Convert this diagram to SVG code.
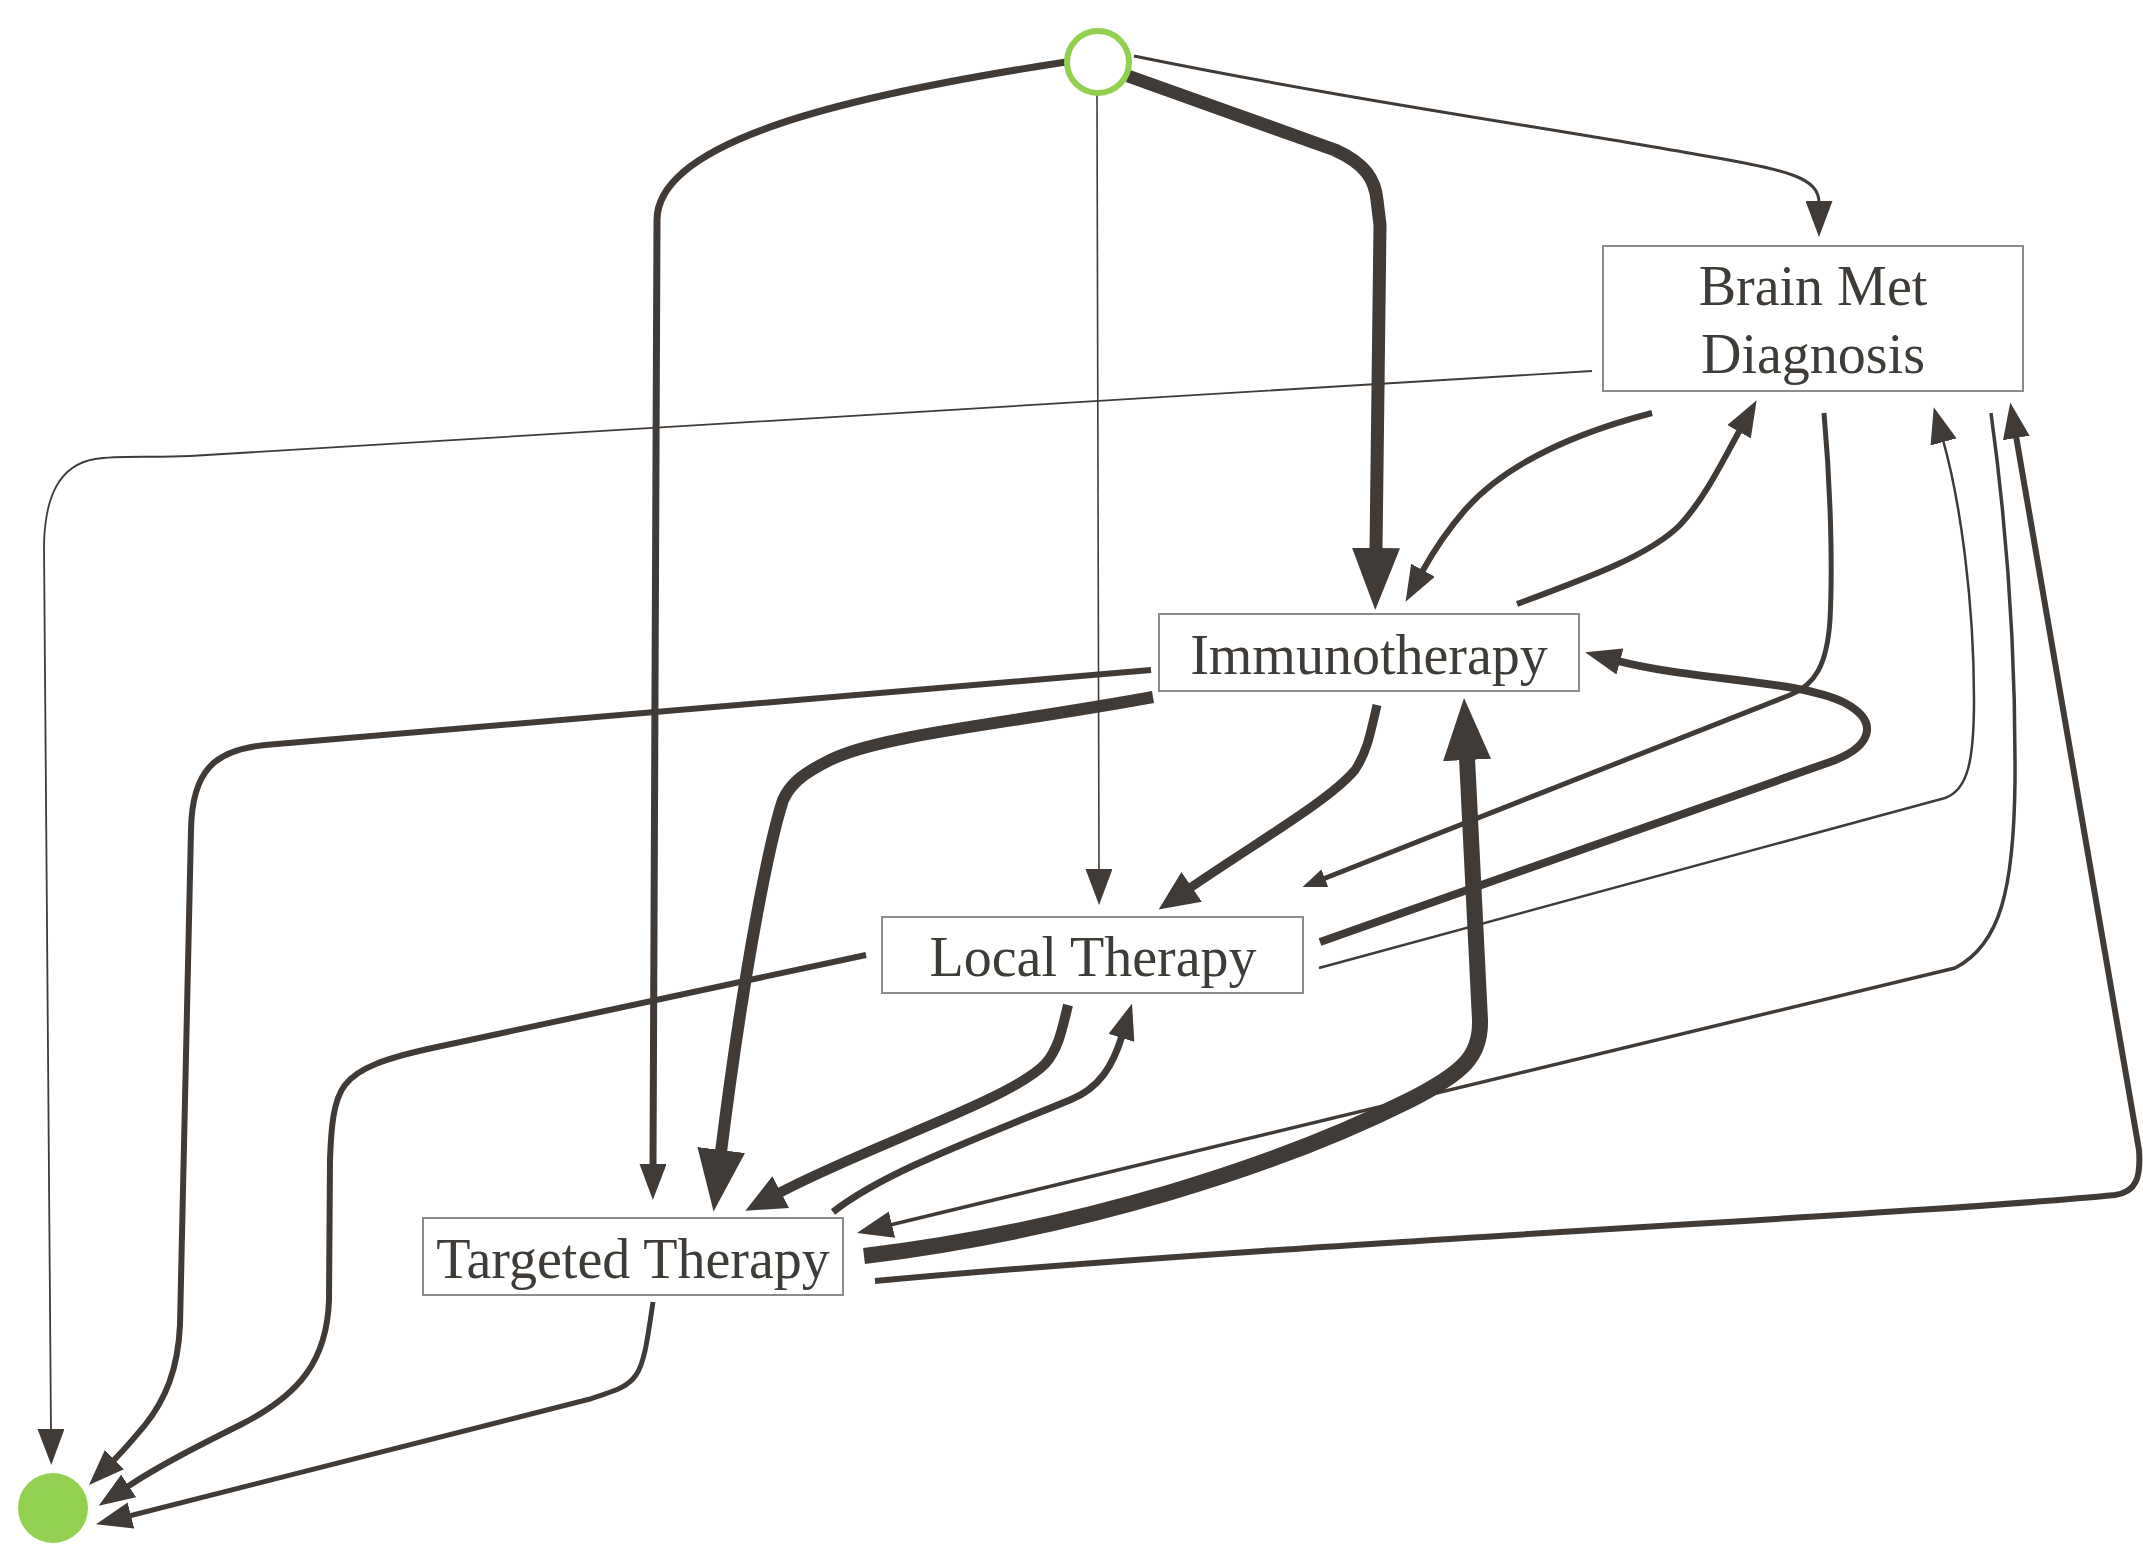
<svg xmlns="http://www.w3.org/2000/svg" width="2143" height="1545" viewBox="0 0 2143 1545">
  <style>
    .edge { fill: none; stroke: #403b37; stroke-linecap: butt; stroke-linejoin: round; }
    .box { fill: #ffffff; stroke: #8c8c8c; stroke-width: 2; }
    .label { font-family: "Liberation Serif", "Times New Roman", serif; font-size: 56px; fill: #3f3b37; text-anchor: middle; }
    .head { fill: #403b37; }
  </style>
  <defs>
    <marker id="ah" markerUnits="userSpaceOnUse" orient="auto" markerWidth="36" markerHeight="27" refX="2" refY="13.5">
      <path class="head" d="M0,0 L36,13.5 L0,27 Z"/>
    </marker>
    <marker id="ah-sm" markerUnits="userSpaceOnUse" orient="auto" markerWidth="24" markerHeight="19" refX="2" refY="9.5">
      <path class="head" d="M0,0 L24,9.5 L0,19 Z"/>
    </marker>
    <marker id="ah-md" markerUnits="userSpaceOnUse" orient="auto" markerWidth="40" markerHeight="36" refX="2" refY="18">
      <path class="head" d="M0,0 L40,18 L0,36 Z"/>
    </marker>
    <marker id="ah-lg" markerUnits="userSpaceOnUse" orient="auto" markerWidth="62" markerHeight="48" refX="2" refY="24">
      <path class="head" d="M0,0 L62,24 L0,48 Z"/>
    </marker>
  </defs>

  <rect width="2143" height="1545" fill="#ffffff"/>

  <g id="connectors">
    <!-- start -> targeted therapy -->
    <path class="edge" stroke-width="7" marker-end="url(#ah)" d="M1066,62 C850,95 657,140 657,220 L653,1166"/>
    <!-- start -> immunotherapy -->
    <path class="edge" stroke-width="13" marker-end="url(#ah-lg)" d="M1128,76 L1335,150 C1366,164 1375,180 1377,200 L1380,225 L1376,550"/>
    <!-- start -> local therapy -->
    <path class="edge" stroke-width="1.6" marker-end="url(#ah)" d="M1097,95 L1099,871"/>
    <!-- start -> brain met diagnosis -->
    <path class="edge" stroke-width="3" marker-end="url(#ah)" d="M1134,56 C1350,100 1550,128 1700,155 C1790,170 1819,178 1819,203"/>
    <!-- brain met diagnosis -> end -->
    <path class="edge" stroke-width="1.8" marker-end="url(#ah)" d="M1592,371 L190,456 C150,458 120,455 95,459 C60,465 45,495 44,545 L51,1431"/>
    <!-- brain met diagnosis -> immunotherapy -->
    <path class="edge" stroke-width="6" marker-end="url(#ah)" d="M1652,413 C1560,437 1500,470 1465,510 C1445,533 1433,552 1422,572"/>
    <!-- immunotherapy -> brain met diagnosis -->
    <path class="edge" stroke-width="6" marker-end="url(#ah)" d="M1517,604 C1590,577 1650,555 1680,525 C1705,498 1722,462 1740,430"/>
    <!-- brain met diagnosis -> local therapy -->
    <path class="edge" stroke-width="5" marker-end="url(#ah-sm)" d="M1824,413 C1830,480 1833,560 1830,620 C1827,665 1815,685 1790,695 L1323,879"/>
    <!-- local therapy -> immunotherapy -->
    <path class="edge" stroke-width="8" marker-end="url(#ah)" d="M1320,942 L1830,762 C1872,747 1880,722 1845,703 C1800,680 1690,680 1618,661"/>
    <!-- local therapy -> brain met diagnosis -->
    <path class="edge" stroke-width="2.5" marker-end="url(#ah)" d="M1319,968 L1945,798 C1968,790 1974,760 1974,700 C1974,600 1960,500 1943,440"/>
    <!-- brain met diagnosis -> targeted therapy -->
    <path class="edge" stroke-width="3.5" marker-end="url(#ah)" d="M1991,413 C2003,500 2016,620 2015,780 C2014,890 2000,945 1955,968 L890,1225"/>
    <!-- targeted therapy -> brain met diagnosis -->
    <path class="edge" stroke-width="6" marker-end="url(#ah)" d="M875,1281 C1300,1242 1900,1216 2115,1195 C2136,1192 2141,1178 2139,1150 L2016,436"/>
    <!-- immunotherapy -> local therapy -->
    <path class="edge" stroke-width="9" marker-end="url(#ah-md)" d="M1377,705 C1370,735 1367,752 1355,770 C1330,800 1260,840 1190,888"/>
    <!-- local therapy -> targeted therapy -->
    <path class="edge" stroke-width="10" marker-end="url(#ah-md)" d="M1068,1005 C1062,1030 1058,1050 1045,1064 C1010,1100 870,1145 779,1193"/>
    <!-- targeted therapy -> local therapy -->
    <path class="edge" stroke-width="7" marker-end="url(#ah)" d="M833,1212 C880,1175 960,1145 1070,1100 C1100,1088 1113,1065 1122,1036"/>
    <!-- targeted therapy -> immunotherapy -->
    <path class="edge" stroke-width="16" marker-end="url(#ah-lg)" d="M864,1256 C1080,1230 1280,1165 1410,1100 C1465,1072 1481,1055 1480,1020 L1467,758"/>
    <!-- immunotherapy -> targeted therapy -->
    <path class="edge" stroke-width="12" marker-end="url(#ah-lg)" d="M1153,697 C1000,725 880,735 830,760 C800,775 790,785 783,800 C770,840 745,960 721,1152"/>
    <!-- immunotherapy -> end -->
    <path class="edge" stroke-width="6" marker-end="url(#ah)" d="M1151,670 L265,745 C215,750 192,770 191,830 L180,1325 C178,1370 165,1400 145,1425 C135,1437 125,1449 113,1461"/>
    <!-- local therapy -> end -->
    <path class="edge" stroke-width="6" marker-end="url(#ah)" d="M866,955 L437,1047 C385,1058 358,1068 345,1085 C333,1100 331,1130 330,1160 L329,1300 C327,1360 300,1395 240,1425 C200,1445 160,1465 127,1487"/>
    <!-- targeted therapy -> end -->
    <path class="edge" stroke-width="5" marker-end="url(#ah)" d="M653,1302 C648,1335 645,1362 636,1375 C628,1387 615,1391 590,1399 L129,1516"/>
  </g>

  <g id="start">
    <circle cx="1098" cy="62" r="31" fill="#ffffff" stroke="#92d050" stroke-width="6"/>
  </g>

  <g id="end">
    <circle cx="53" cy="1508" r="35" fill="#92d050"/>
  </g>

  <g id="brain-met-diagnosis">
    <rect class="box" x="1603" y="246" width="420" height="145"/>
    <text class="label" x="1813" y="305">Brain Met</text>
    <text class="label" x="1813" y="373">Diagnosis</text>
  </g>

  <g id="immunotherapy">
    <rect class="box" x="1159" y="614" width="420" height="77"/>
    <text class="label" x="1369" y="674">Immunotherapy</text>
  </g>

  <g id="local-therapy">
    <rect class="box" x="882" y="917" width="421" height="76"/>
    <text class="label" x="1093" y="976">Local Therapy</text>
  </g>

  <g id="targeted-therapy">
    <rect class="box" x="423" y="1218" width="420" height="77"/>
    <text class="label" x="633" y="1278">Targeted Therapy</text>
  </g>
</svg>
